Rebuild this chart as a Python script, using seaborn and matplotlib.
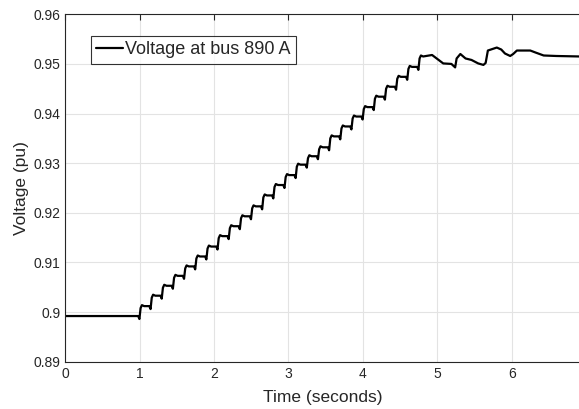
import matplotlib
matplotlib.use("Agg")
import matplotlib.pyplot as plt
from matplotlib.ticker import FuncFormatter
import pandas as pd
import seaborn as sns

# values
base_level = 0.8992
step_times = [1.00, 1.15, 1.30, 1.45, 1.60, 1.75, 1.90, 2.05, 2.20, 2.35, 2.50, 2.65, 2.80,
              2.95, 3.10, 3.25, 3.40, 3.55, 3.70, 3.85, 4.00, 4.15, 4.30, 4.45, 4.60, 4.75]
step_levels = [0.9012, 0.9033, 0.9053, 0.9073, 0.9092, 0.9112, 0.9132, 0.9153, 0.9173,
               0.9193, 0.9213, 0.9235, 0.9256, 0.9276, 0.9297, 0.9314, 0.9332, 0.9354,
               0.9374, 0.9394, 0.9413, 0.9434, 0.9454, 0.9474, 0.9494, 0.9515]
step_dip = 0.0006
tail_times = [4.85, 4.93, 5.01, 5.08, 5.19, 5.24, 5.26, 5.31, 5.38, 5.46, 5.55, 5.62, 5.65,
              5.68, 5.80, 5.86, 5.91, 5.98, 6.02, 6.07, 6.25, 6.32, 6.43, 6.60, 6.92]
tail_levels = [0.9516, 0.9518, 0.9509, 0.9501, 0.9500, 0.9493, 0.9511, 0.9520, 0.9511,
               0.9508, 0.9501, 0.9498, 0.9502, 0.9527, 0.9533, 0.9529, 0.9521, 0.9516,
               0.9520, 0.9527, 0.9527, 0.9523, 0.9517, 0.9516, 0.9515]
y_ticks = [0.89, 0.90, 0.91, 0.92, 0.93, 0.94, 0.95, 0.96]
x_ticks = [0, 1, 2, 3, 4, 5, 6]

# build the staircase path from the step data
t, v = [0.0], [base_level]
prev = base_level
for ts, lv in zip(step_times, step_levels):
    t += [ts - 0.02, ts - 0.004, ts + 0.012, ts + 0.03, ts + 0.06]
    v += [prev, prev - step_dip, lv - 0.0004, lv + 0.0002, lv]
    prev = lv
t += tail_times
v += tail_levels
df = pd.DataFrame({"time": t, "voltage": v})

sns.set_style("white")
plt.rcParams["font.family"] = ["Liberation Sans", "DejaVu Sans"]

fig = plt.figure(figsize=(5.79, 4.09), dpi=100)
# right edge sits just past the image, as in the reference (no right spine visible)
ax = fig.add_axes([65.3 / 579, 1 - 361.7 / 409, 515.2 / 579, 347.4 / 409])

sns.lineplot(data=df, x="time", y="voltage", ax=ax, color="black", lw=1.6,
             estimator=None, sort=False, label="Voltage at bus 890 A")

ax.set_xlim(0, 6.925)
ax.set_ylim(0.89, 0.96)
ax.set_xticks(x_ticks)
ax.set_yticks(y_ticks)
ax.yaxis.set_major_formatter(FuncFormatter(lambda val, pos: f"{val:g}"))
ax.grid(True, color="#e3e3e3", lw=0.8)
ax.tick_params(direction="in", top=True, right=False, length=4, width=0.8,
               colors="#262626", labelsize=10)
for s in ax.spines.values():
    s.set_color("#262626")
    s.set_linewidth(0.8)

ax.set_xlabel("Time (seconds)", fontsize=12.5, color="#262626", labelpad=6.5)
ax.set_ylabel("Voltage (pu)", fontsize=12.5, color="#262626", labelpad=3)

leg = ax.legend(loc="upper left", bbox_to_anchor=(0.049, 0.9375), borderaxespad=0,
                fontsize=13, frameon=True, fancybox=False, handlelength=1.5,
                handletextpad=0.12, borderpad=0.3)
leg.get_frame().set_edgecolor("black")
leg.get_frame().set_linewidth(0.8)

fig.savefig("out.png", dpi=100)
